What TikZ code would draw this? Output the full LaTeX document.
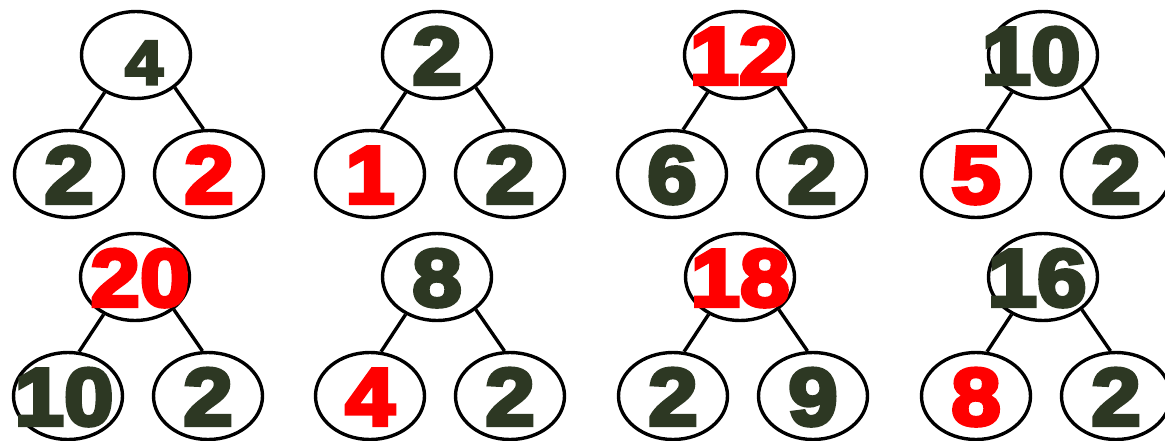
\documentclass[tikz,border=0pt]{standalone}
\usepackage{fontspec}
\newfontfamily\numfont[FakeBold=5,FakeStretch=1.1]{Liberation Sans Bold}
\usetikzlibrary{shapes.geometric}
\definecolor{cdark}{HTML}{2D3823}
\definecolor{cred}{HTML}{FF0000}
\newcommand{\rednum}[1]{\textcolor{cred}{#1}}
\newcommand{\smallnum}[1]{{\fontsize{62}{62}\selectfont #1}}
\tikzset{
  every picture/.style={line width=3.4pt},
  num/.style={draw=black, ellipse, minimum width=109pt, minimum height=87pt, inner sep=0pt, text=cdark, font=\numfont\fontsize{81}{81}\selectfont, text height=58pt, text depth=0pt,
    execute at begin node={\hbox to 0pt\bgroup\hss}, execute at end node={\hss\egroup}},
  branch/.style={draw=black, line width=3.4pt},
}

\begin{document}
\begin{tikzpicture}[x=1pt,y=-1pt]
  \useasboundingbox[fill=white] (0,0) rectangle (1165,440);
  \foreach \x/\y/\a/\b/\c/\n in {136/55/{\hspace*{16pt}\smallnum{4}}/2/\rednum{2}/1, 437/55/2/\rednum{1}/2/2, 739/55/\rednum{12}/6/2/3, 1043/55/{\hspace*{-24pt}10}/\rednum{5}/2/4, 135/277/{\hspace*{10pt}\rednum{20}}/{\hspace*{-8pt}10}/2/5, 437/277/8/\rednum{4}/2/6, 740/277/\rednum{18}/2/9/7, 1043/277/{\hspace*{-12pt}16}/\rednum{8}/2/8} {
    \node[num] (t\n) at (\x,\y) {\a};
    \node[num] (l\n) at (\x-67,\y+119) {\b};
    \node[num] (r\n) at (\x+73,\y+119) {\c};
    \draw[branch] (t\n.230) -- (l\n.76);
    \draw[branch] (t\n.320) -- (r\n.97);
  }
\end{tikzpicture}
\end{document}
